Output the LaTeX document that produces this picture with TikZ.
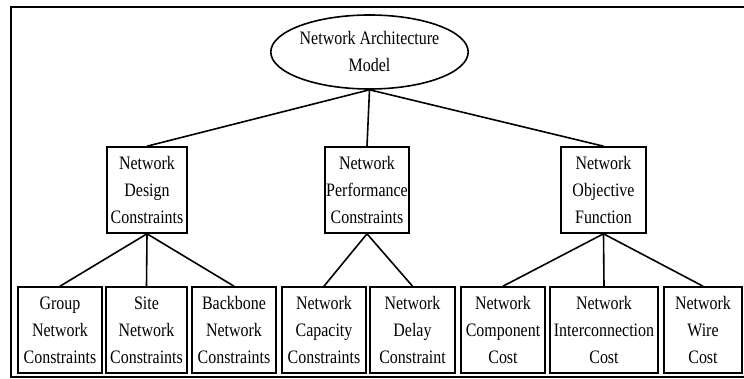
\documentclass[tikz,border=0pt]{standalone}
\usepackage{fontspec}
\setmainfont{Liberation Serif}[FakeStretch=0.84]
\usetikzlibrary{shapes.geometric}

\begin{document}
\begin{tikzpicture}[
  x=1pt, y=-1pt, line width=1.6pt,
  every node/.style={draw,align=center,inner sep=0pt,minimum height=86pt,
    font=\fontsize{19}{27}\selectfont},
  oval/.style={ellipse,minimum width=175pt,minimum height=74pt}
]
  \useasboundingbox (0,0) rectangle (744,379);
  \draw (744,7) -- (11,7) -- (11,377) -- (744,377);

  \node[oval] (model) at (369.5,52) {Network Architecture\\Model};

  \node[minimum width=80pt] (design) at (147,190)   {Network\\Design\\Constraints};
  \node[minimum width=84pt] (perf)   at (367,190)   {Network\\Performance\\Constraints};
  \node[minimum width=85pt] (obj)    at (603.5,190) {Network\\Objective\\Function};

  \node[minimum width=84pt]  (group)    at (60,330)  {Group\\Network\\Constraints};
  \node[minimum width=81pt]  (site)     at (146.5,330) {Site\\Network\\Constraints};
  \node[minimum width=84pt]  (backbone) at (234,330) {Backbone\\Network\\Constraints};
  \node[minimum width=84pt]  (capacity) at (324,330) {Network\\Capacity\\Constraints};
  \node[minimum width=85pt]  (delay)    at (412.5,330) {Network\\Delay\\Constraint};
  \node[minimum width=84pt]  (comp)     at (503,330) {Network\\Component\\Cost};
  \node[minimum width=108pt] (inter)    at (604,330) {Network\\Interconnection\\Cost};
  \node[minimum width=78pt]  (wire)     at (703,330) {Network\\Wire\\Cost};

  \draw (model.south)--(design.north);
  \draw (model.south)--(perf.north);
  \draw (model.south)--(obj.north);

  \draw (design.south)--(group.north);
  \draw (design.south)--(site.north);
  \draw (design.south)--(backbone.north);
  \draw (perf.south)--(capacity.north);
  \draw (perf.south)--(delay.north);
  \draw (obj.south)--(comp.north);
  \draw (obj.south)--(inter.north);
  \draw (obj.south)--(wire.north);
\end{tikzpicture}
\end{document}
